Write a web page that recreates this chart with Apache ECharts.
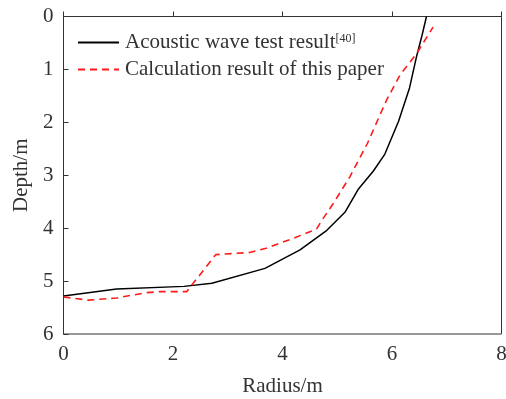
<!DOCTYPE html>
<html lang="en">
<head>
    <meta charset="UTF-8">
    <title>Depth vs radius</title>
    <script src="https://cdn.jsdelivr.net/npm/echarts@6/dist/echarts.min.js"></script>
    <style>
        body{ margin:0; background:#fff }
        #main{ width:506px; height:399px }
    </style>
</head>
<body>
<div id="main"></div>
<script type="text/javascript">
    // [radius, depth]
    var acoustic = [[0,5.28],[0.97,5.15],[2.2,5.10],[2.71,5.04],[3.68,4.76],[4.32,4.41],[4.81,4.04],
        [5.14,3.70],[5.38,3.27],[5.66,2.92],[5.87,2.60],[6.12,1.98],[6.32,1.35],[6.45,0.75],[6.55,0.35],[6.63,0]];
    var calc = [[0,5.30],[0.45,5.36],[0.97,5.32],[1.5,5.22],[1.75,5.20],[2.25,5.20],[2.78,4.50],[3.4,4.46],
        [3.7,4.38],[4.2,4.19],[4.62,4.02],[4.72,3.85],[4.93,3.53],[5.23,3.03],[5.55,2.40],[5.9,1.58],
        [6.15,1.10],[6.45,0.70],[6.75,0.20]];
    var names = ['Acoustic wave test result', 'Calculation result of this paper'];

    var myChart = echarts.init(document.getElementById('main'));
    var font = 'Liberation Serif';
    var axisCol = '#333';

    var option = {
        animation: false,
        backgroundColor: '#fff',
        textStyle: { fontFamily: font },
        grid: {
            left: 63.5, top: 16.5, right: 4.5, bottom: 65,
            outerBoundsMode: 'none',
            show: true, borderColor: axisCol, borderWidth: 1
        },
        legend: {
            left: 72, top: 27,
            orient: 'vertical',
            itemWidth: 41, itemHeight: 14, itemGap: 6,
            data: names,
            itemStyle: { opacity: 0 },
            formatter: function (n) {
                return n === names[0] ? '{a|' + n + '}{s|[40]}' : '{a|' + n + '}';
            },
            textStyle: {
                color: '#333', fontFamily: font, fontSize: 21,
                rich: {
                    a: { fontFamily: font, fontSize: 21, color: '#333', lineHeight: 20, padding: [0, 0, 0, 1] },
                    s: { fontFamily: font, fontSize: 12, color: '#333', verticalAlign: 'top', lineHeight: 20 }
                }
            }
        },
        xAxis: {
            type: 'value', min: 0, max: 8, interval: 2,
            name: 'Radius/m', nameLocation: 'middle', nameGap: 42,
            nameTextStyle: { color: '#333', fontFamily: font, fontSize: 21 },
            axisLine: { lineStyle: { color: axisCol } },
            axisTick: { inside: true, length: 5, lineStyle: { color: axisCol } },
            axisLabel: { color: '#333', fontFamily: font, fontSize: 21, margin: 10 },
            splitLine: { show: false }
        },
        yAxis: {
            type: 'value', min: 0, max: 6, interval: 1, inverse: true,
            name: 'Depth/m', nameLocation: 'middle', nameGap: 31, nameRotate: 90,
            nameTextStyle: { color: '#333', fontFamily: font, fontSize: 21 },
            axisLine: { show: true, lineStyle: { color: axisCol } },
            axisTick: { show: true, inside: true, length: 5, lineStyle: { color: axisCol } },
            axisLabel: { color: '#333', fontFamily: font, fontSize: 21, margin: 10 },
            splitLine: { show: false }
        },
        series: [
            {
                name: names[0], type: 'line', data: acoustic,
                symbol: 'none', smooth: false,
                lineStyle: { color: '#000', width: 1.5 },
                itemStyle: { color: '#000' }
            },
            {
                name: names[1], type: 'line', data: calc,
                symbol: 'none', smooth: false,
                lineStyle: { color: '#ff1a1a', width: 1.6, type: [7, 5] },
                itemStyle: { color: '#ff1a1a' }
            }
        ]
    };
    myChart.setOption(option);
</script>
</body>
</html>
